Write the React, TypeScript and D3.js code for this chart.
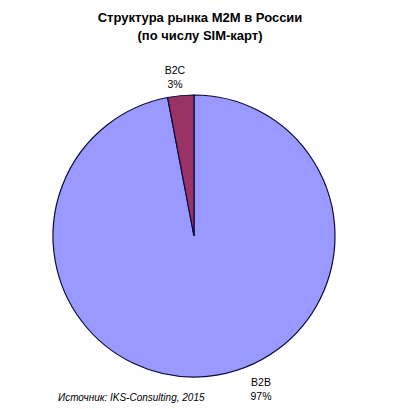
import React from "react";
import * as d3 from "d3";

const categories = ["B2B", "B2C"];
const values = [97, 3];
const labels = ["97%", "3%"];
const colors = ["#9999FF", "#993366"];
const titleLines = ["Структура рынка M2M в России", "(по числу SIM-карт)"];
const sourceText = "Источник: IKS-Consulting, 2015";

export default function App() {
  const W = 400, H = 409;
  const cx = 194, cy = 236, r = 141;
  // B2C sits just left of 12 o'clock; B2B fills the rest clockwise from 12
  const pie = d3.pie<number>().sort(null).startAngle(0).endAngle(2 * Math.PI);
  const arcs = pie(values);
  const arc = d3.arc<d3.PieArcDatum<number>>().innerRadius(0).outerRadius(r);
  const labelPos = [
    { x: 261, y: 386 },
    { x: 175, y: 74 },
  ];
  return (
    <svg width={W} height={H} style={{ position: "absolute", left: 0, top: 0, background: "#fff" }}>
      <rect width={W} height={H} fill="#fff" />
      <g fontFamily="Arial, 'Liberation Sans', sans-serif">
        {titleLines.map((t, i) => (
          <text key={i} x={200} y={22 + i * 18} textAnchor="middle" fontSize={13} fontWeight="bold" fill="#000">
            {t}
          </text>
        ))}
        <g transform={`translate(${cx},${cy})`}>
          {arcs.map((a, i) => (
            <path key={categories[i]} d={arc(a) || ""} fill={colors[i]} stroke="#0a0a3a" strokeWidth={1.2} />
          ))}
        </g>
        {categories.map((c, i) => (
          <text key={c} x={labelPos[i].x} y={labelPos[i].y} textAnchor="middle" fontSize={10.5} fill="#000">
            <tspan x={labelPos[i].x}>{c}</tspan>
            <tspan x={labelPos[i].x} dy={14}>{labels[i]}</tspan>
          </text>
        ))}
        <text x={58} y={401} fontSize={10} fontStyle="italic" fill="#000">
          {sourceText}
        </text>
      </g>
    </svg>
  );
}
